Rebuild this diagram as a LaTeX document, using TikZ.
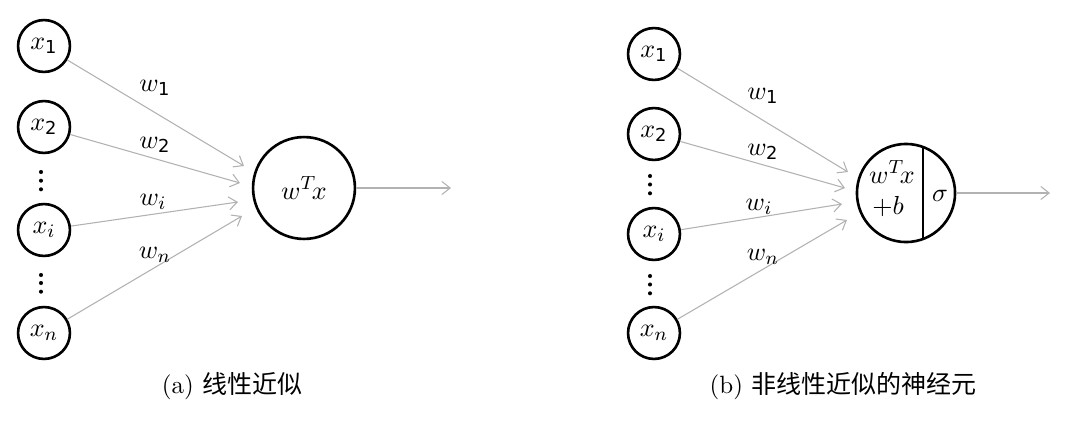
\documentclass[tikz,border=0pt]{standalone}
\usepackage{fontspec}
\newfontfamily\cjk{Noto Sans CJK SC}
\newfontfamily\dv{DejaVu Sans}
\usetikzlibrary{arrows.meta}
\newcommand{\dsub}[1]{\mbox{\dv\fontsize{7.5}{8}\selectfont #1}}
\tikzset{
  inp/.style={circle,draw,line width=1.1pt,minimum size=21.8pt,inner sep=0pt,font=\fontsize{11}{13}\selectfont},
  sumnode/.style={circle,draw,line width=1.1pt,minimum size=42.8pt,inner sep=0pt,font=\fontsize{11}{13}\selectfont},
  conn/.style={draw=black!30,line width=0.45pt,-{Straight Barb[length=3.5pt,width=5.5pt,line width=0.45pt]}},
  wlab/.style={inner sep=0pt,font=\fontsize{11}{13}\selectfont},
  vdot/.style={circle,fill,inner sep=0pt,minimum size=1.7pt},
  captext/.style={inner sep=0pt,font=\fontsize{10.5}{12}\selectfont}
}
\begin{document}
\begin{tikzpicture}[x=0.42pt,y=-0.42pt]
\useasboundingbox (0,0) rectangle (1070,421);
% ---------- panel (a)
\node[inp] (a1) at (44,46) {$x_{\dsub{1}}$};
\node[inp] (a2) at (44,127) {$x_{\dsub{2}}$};
\node[inp] (ai) at (44,230) {$x_i$};
\node[inp] (an) at (44,333) {$x_n$};
\node[vdot] (ad1a) at (41,172) {};
\node[vdot] (ad1b) at (41,180.7) {};
\node[vdot] (ad1c) at (41,189.3) {};
\node[vdot] (ad2a) at (41,275) {};
\node[vdot] (ad2b) at (41,283) {};
\node[vdot] (ad2c) at (41,291.7) {};
\node[sumnode] (as) at (304,188) {$w^{T}\!x$};
\coordinate (ae1) at (244,166);
\coordinate (ae2) at (240,183);
\coordinate (aei) at (238,202);
\coordinate (aen) at (242,216);
\coordinate (aout) at (451,188);
\draw[conn] (a1) -- (ae1);
\draw[conn] (a2) -- (ae2);
\draw[conn] (ai) -- (aei);
\draw[conn] (an) -- (aen);
\draw[conn] (as) -- (aout);
\node[wlab] (aw1) at (155,88) {$w_{\dsub{1}}$};
\node[wlab] (aw2) at (155,145) {$w_{\dsub{2}}$};
\node[wlab] (awi) at (153,202) {$w_i$};
\node[wlab] (awn) at (155,255) {$w_n$};
\node[captext] (capa) at (232,386) {(a)\ {\cjk 线性近似}};
% ---------- panel (b)
\node[inp] (b1) at (654,54) {$x_{\dsub{1}}$};
\node[inp] (b2) at (654,134) {$x_{\dsub{2}}$};
\node[inp] (bi) at (654,234) {$x_i$};
\node[inp] (bn) at (654,333) {$x_n$};
\node[vdot] (bd1a) at (650,176) {};
\node[vdot] (bd1b) at (650,184.5) {};
\node[vdot] (bd1c) at (650,193.3) {};
\node[vdot] (bd2a) at (650,276) {};
\node[vdot] (bd2b) at (650,284.5) {};
\node[vdot] (bd2c) at (650,293.3) {};
\node[circle,draw,line width=1.1pt,minimum size=41.2pt,inner sep=0pt] (bs) at (906,193) {};
\path (bs.center) ++(17,-47) coordinate (bv1) (bs.center) ++(17,47) coordinate (bv2);
\draw[line width=1.1pt] (bv1) -- (bv2);
\node[wlab] (bwx) at (892,172) {$w^{T}\!x$};
\node[wlab] (bpb) at (888,207) {$+b$};
\node[wlab] (bsig) at (940,196) {$\sigma$};
\coordinate (be1) at (848,172);
\coordinate (be2) at (845,188);
\coordinate (bei) at (842,204);
\coordinate (ben) at (847,220);
\coordinate (bout) at (1050,193);
\draw[conn] (b1) -- (be1);
\draw[conn] (b2) -- (be2);
\draw[conn] (bi) -- (bei);
\draw[conn] (bn) -- (ben);
\draw[conn] (bs) -- (bout);
\node[wlab] (bw1) at (763,96) {$w_{\dsub{1}}$};
\node[wlab] (bw2) at (763,152) {$w_{\dsub{2}}$};
\node[wlab] (bwi) at (759,207) {$w_i$};
\node[wlab] (bwn) at (763,257) {$w_n$};
\node[captext] (capb) at (843,386) {(b)\ {\cjk 非线性近似的神经元}};
\end{tikzpicture}
\end{document}
